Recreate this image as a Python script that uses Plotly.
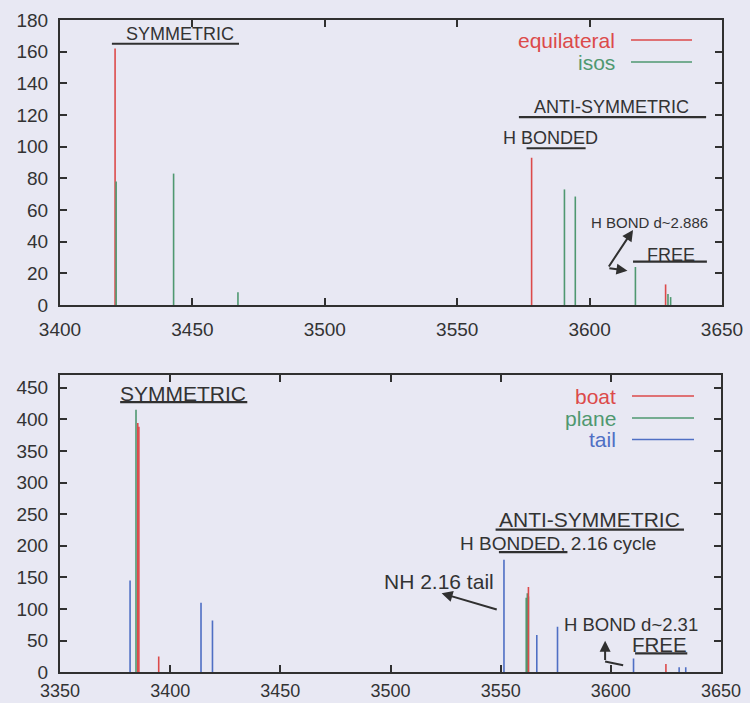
import plotly.graph_objects as go

W, H = 750, 703
BG = "#e8e8f3"
TXT = "#333333"
RED = "#dc4a4a"
GREEN = "#4f9870"
BLUE = "#4f6fc4"

# ---- top panel data ----
equi_x = [3420.8, 3578.1, 3628.7]
equi_y = [162, 93, 13]
isos_x = [3421.2, 3442.9, 3467.2, 3590.5, 3594.6, 3617.3, 3629.6, 3630.6]
isos_y = [78, 83, 8, 73, 68.5, 24, 7, 5]

# ---- bottom panel data ----
boat_x = [3385.3, 3385.8, 3394.8, 3562.6, 3625.0]
boat_y = [394, 388, 25, 135, 13]
plane_x = [3384.5, 3561.6, 3562.1, 3562.6]
plane_y = [415, 118, 125, 120]
tail_x = [3381.8, 3414.0, 3419.2, 3551.5, 3566.4, 3575.8, 3610.3, 3631.0, 3634.0]
tail_y = [145, 110, 82, 178, 59, 72, 22, 8, 8]

top_legend = ["equilateral", "isos"]
bot_legend = ["boat", "plane", "tail"]

x_top_ticks = [3400, 3450, 3500, 3550, 3600, 3650]
y_top_ticks = list(range(0, 181, 20))
x_bot_ticks = [3350, 3400, 3450, 3500, 3550, 3600, 3650]
y_bot_ticks = list(range(0, 451, 50))


def sticks(xs, ys):
    px, py = [], []
    for a, b in zip(xs, ys):
        px += [a, a, None]
        py += [0, b, None]
    return px, py


fig = go.Figure()
for xs, ys, col, xa, ya in [
    (equi_x, equi_y, RED, "x", "y"),
    (isos_x, isos_y, GREEN, "x", "y"),
    (tail_x, tail_y, BLUE, "x2", "y2"),
    (plane_x, plane_y, GREEN, "x2", "y2"),
    (boat_x, boat_y, RED, "x2", "y2"),
]:
    px, py = sticks(xs, ys)
    fig.add_trace(go.Scatter(x=px, y=py, mode="lines", xaxis=xa, yaxis=ya,
                             line=dict(color=col, width=1.6), showlegend=False,
                             hoverinfo="skip"))


def px2paper(xp, yp):
    return xp / W, 1 - yp / H


def axis_common(standoff=6, size=19):
    return dict(showgrid=False, zeroline=False, showline=True, linecolor="#303030",
                linewidth=2, mirror="ticks", ticks="inside", ticklen=7, tickwidth=2,
                tickcolor="#303030", automargin=False, ticklabelstandoff=standoff,
                tickfont=dict(family="Liberation Sans", size=size, color=TXT))


fig.update_layout(
    width=W, height=H, margin=dict(l=0, r=0, t=0, b=0),
    paper_bgcolor=BG, plot_bgcolor=BG, showlegend=False,
    xaxis=dict(domain=[60 / W, 722 / W], range=[3400, 3650], tickvals=x_top_ticks,
               anchor="y", **axis_common()),
    yaxis=dict(domain=[1 - 305 / H, 1 - 20 / H], range=[0, 180], tickvals=y_top_ticks,
               anchor="x", **axis_common()),
    xaxis2=dict(domain=[60 / W, 721 / W], range=[3350, 3650], tickvals=x_bot_ticks,
                anchor="y2", **axis_common(standoff=1, size=18)),
    yaxis2=dict(domain=[1 - 672.3 / H, 1 - 375 / H], range=[0, 470], tickvals=y_bot_ticks,
                anchor="x2", **axis_common()),
)

ann = []
shapes = []


def text(x, y, s, size, xref="x", yref="y", color=TXT, xanchor="center"):
    ann.append(dict(x=x, y=y, xref=xref, yref=yref, text=s, showarrow=False,
                    xanchor=xanchor, yanchor="middle",
                    font=dict(family="Liberation Sans", size=size, color=color)))


def hline(x0, x1, y, xref="x", yref="y", color="#303030", width=2.2):
    shapes.append(dict(type="line", x0=x0, x1=x1, y0=y, y1=y, xref=xref, yref=yref,
                       line=dict(color=color, width=width)))


def arrow(xt, yt, xh, yh, xref="x", yref="y"):
    ann.append(dict(x=xh, y=yh, ax=xt, ay=yt, xref=xref, yref=yref, axref=xref, ayref=yref,
                    text="", showarrow=True, arrowhead=2, arrowsize=1.1, arrowwidth=2,
                    arrowcolor="#303030"))


# top panel labels
text(3445.3, 171, "SYMMETRIC", 18)
hline(3419.6, 3467.6, 165)
text(3608.3, 125.3, "ANTI-SYMMETRIC", 18)
hline(3573.3, 3644, 118.6)
text(3585.4, 105.6, "H BONDED", 18)
hline(3576.2, 3598.5, 99)
text(3622.8, 52, "H BOND d~2.886", 15)
arrow(3606.9, 23.4, 3616.4, 47.4)
arrow(3606.9, 23.4, 3614.3, 21.7)
text(3630.7, 31.8, "FREE", 18)
hline(3616.4, 3644.3, 27.4)

# bottom panel labels
text(3406, 441, "SYMMETRIC", 21, "x2", "y2")
hline(3377.3, 3435, 427, "x2", "y2")
text(3590.1, 242, "ANTI-SYMMETRIC", 21, "x2", "y2")
hline(3547.7, 3633.2, 225.5, "x2", "y2")
text(3576, 204, "H BONDED, 2.16 cycle", 19, "x2", "y2")
hline(3549.2, 3580.3, 190, "x2", "y2")
text(3522.2, 143.2, "NH 2.16 tail", 21, "x2", "y2")
arrow(3548.9, 98.5, 3523.2, 124.9, "x2", "y2")
text(3609.1, 76, "H BOND d~2.31", 18.5, "x2", "y2")
text(3621.9, 43.5, "FREE", 20.5, "x2", "y2")
hline(3611, 3634.7, 30, "x2", "y2")
arrow(3597.4, 17, 3597.4, 50, "x2", "y2")
shapes.append(dict(type="line", x0=3597.4, y0=17, x1=3605.6, y1=11, xref="x2", yref="y2",
                   line=dict(color="#303030", width=2)))

# manual legends (text right, line sample to the right)
for lab, col, yp in zip(top_legend, [RED, GREEN], [40, 62]):
    xx, yy = px2paper(617, yp)
    text(xx, yy, lab, 21, "paper", "paper", color=col, xanchor="right")
    x0, _ = px2paper(631, yp)
    x1, _ = px2paper(692, yp)
    hline(x0, x1, yy, "paper", "paper", color=col, width=1.6)

for lab, col, yp in zip(bot_legend, [RED, GREEN, BLUE], [396, 418, 439.5]):
    xx, yy = px2paper(618, yp)
    text(xx, yy, lab, 21, "paper", "paper", color=col, xanchor="right")
    x0, _ = px2paper(632, yp)
    x1, _ = px2paper(694, yp)
    hline(x0, x1, yy, "paper", "paper", color=col, width=1.6)

fig.update_layout(annotations=ann, shapes=shapes)
fig.write_html("out.html")
